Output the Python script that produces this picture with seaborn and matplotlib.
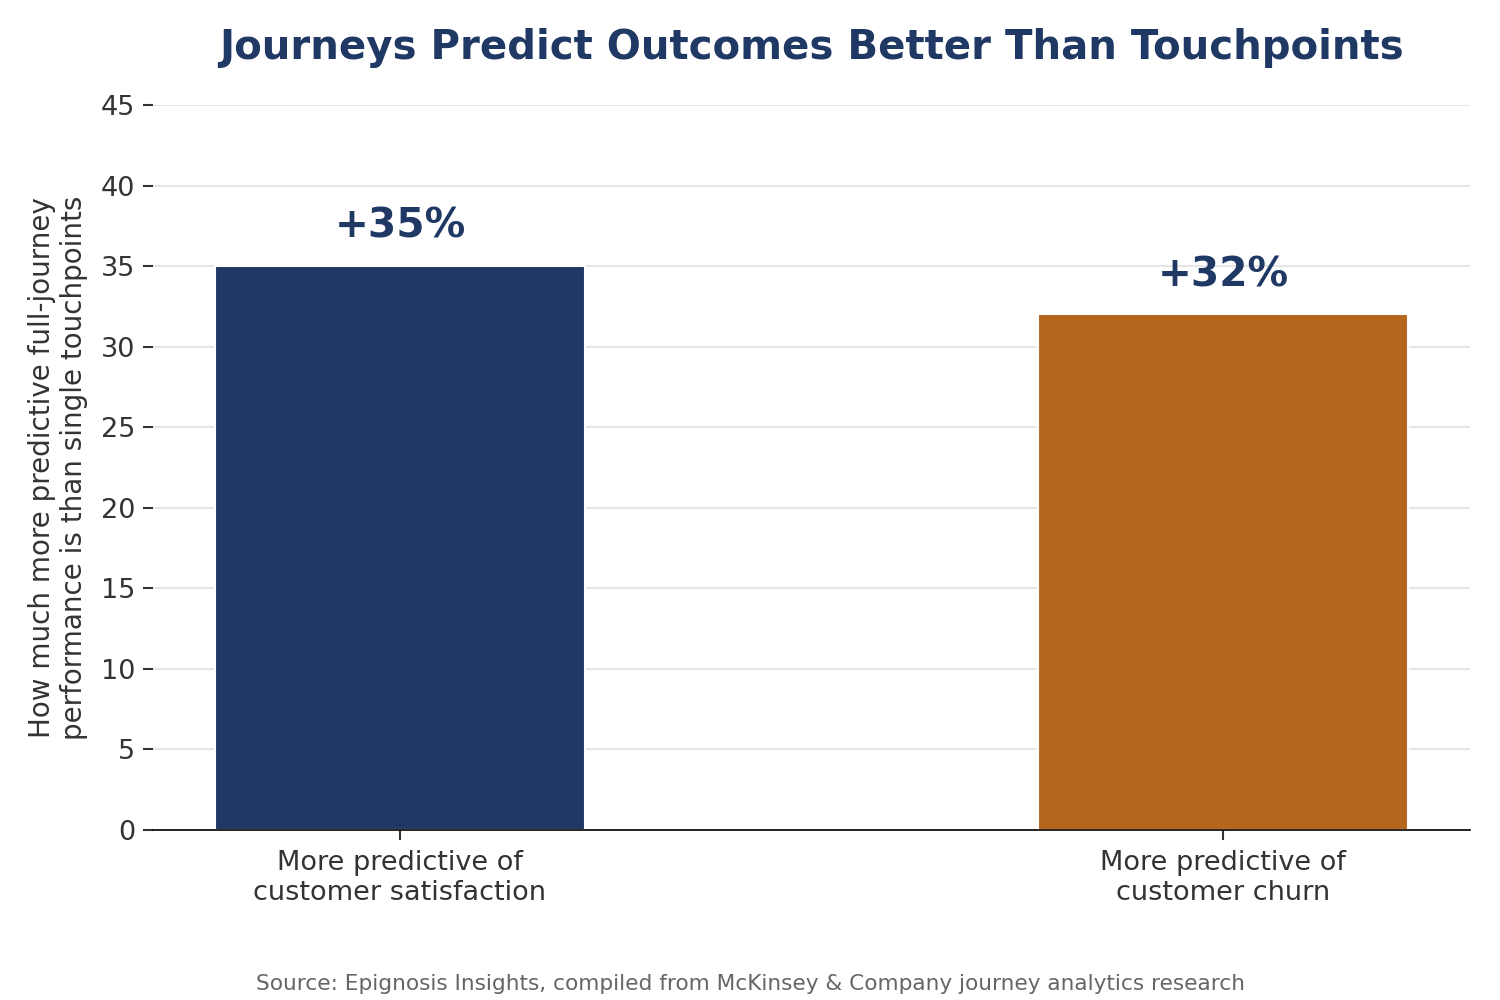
import matplotlib.pyplot as plt
import seaborn as sns
import pandas as pd

categories = ["More predictive of\ncustomer satisfaction", "More predictive of\ncustomer churn"]
values = [35, 32]
labels = ["+35%", "+32%"]
colors = ["#203864", "#b5651d"]

sns.set_style("white")
plt.rcParams['font.family'] = ['DejaVu Sans']

df = pd.DataFrame({"category": categories, "value": values})

fig, ax = plt.subplots(figsize=(10, 6.667), dpi=150)
sns.barplot(data=df, x="category", y="value", hue="category", palette=colors,
            width=0.45, legend=False, ax=ax, saturation=1)

for i, (v, lab) in enumerate(zip(values, labels)):
    ax.text(i, v + 1.2, lab, ha="center", va="bottom", fontsize=19.5,
            fontweight="bold", color="#203864")

ax.set_xlim(-0.3, 1.3)
ax.set_ylim(0, 45)
ax.set_yticks(range(0, 46, 5))
ax.yaxis.grid(True, color="#e6e6e6", linewidth=1)
ax.set_axisbelow(True)
for s in ["top", "right", "left"]:
    ax.spines[s].set_visible(False)
ax.spines["bottom"].set_color("black")
ax.tick_params(axis="both", bottom=True, left=True, labelsize=13,
               labelcolor="#333333", color="#333333", length=5, width=1)
ax.tick_params(axis="x", pad=4.5)
ax.set_xlabel("")
ax.set_ylabel("How much more predictive full-journey\nperformance is than single touchpoints",
              fontsize=13.3, color="#333333", labelpad=6)
ax.set_title("Journeys Predict Outcomes Better Than Touchpoints", fontsize=19.3,
             fontweight="bold", color="#203864", pad=22)

fig.text(0.5, 0.01, "Source: Epignosis Insights, compiled from McKinsey & Company journey analytics research",
         ha="center", fontsize=10.4, color="#666666")

plt.subplots_adjust(left=0.102, right=0.98, top=0.895, bottom=0.17)
plt.savefig("out.png", dpi=150)
